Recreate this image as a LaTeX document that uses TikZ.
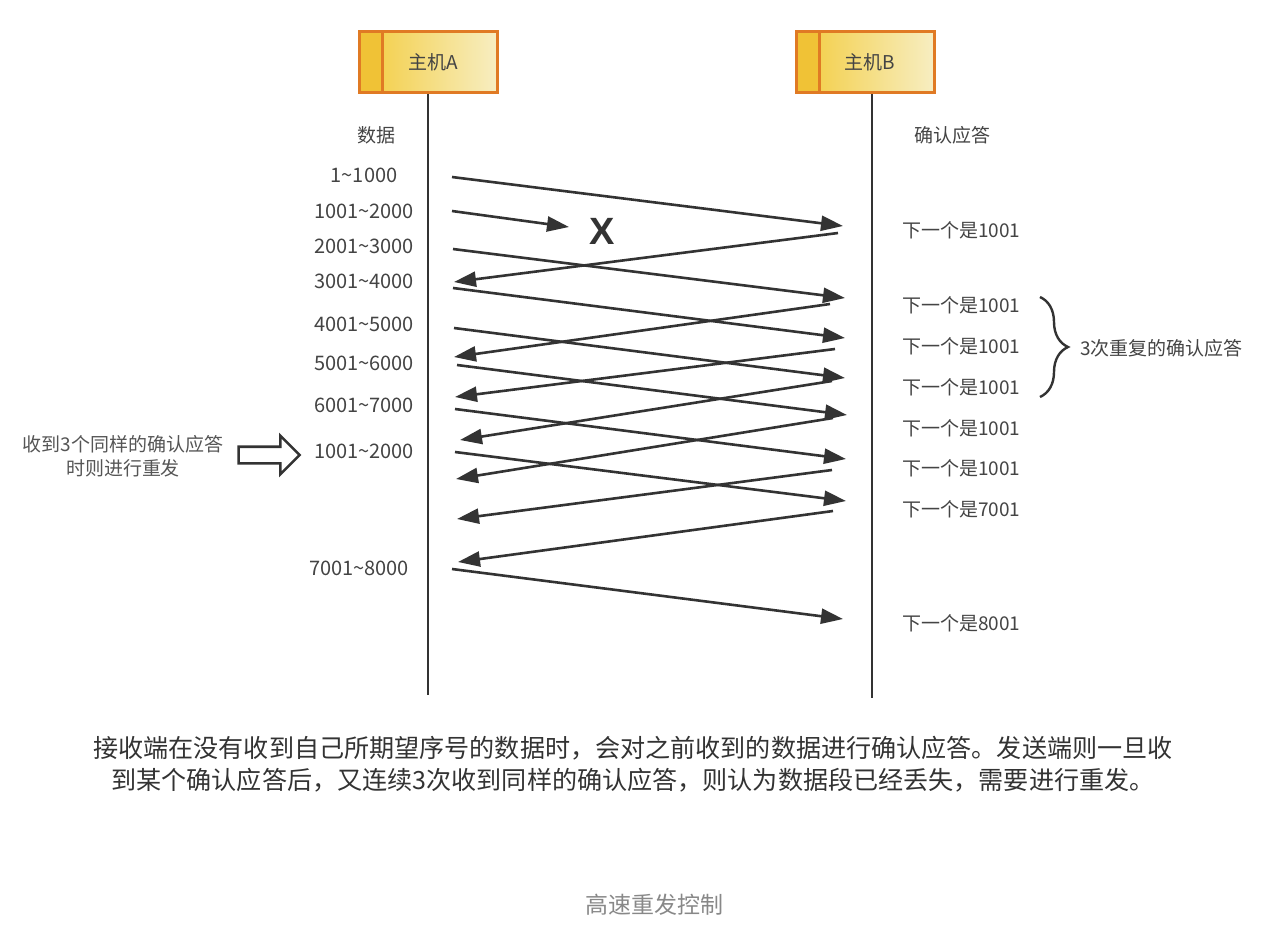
\documentclass[tikz,border=0pt]{standalone}
\usepackage{fontspec}
\setmainfont{Noto Sans CJK SC}
\newfontfamily\xfont{Liberation Sans}
\usetikzlibrary{arrows.meta,decorations.pathreplacing,shapes.arrows}
\definecolor{ink}{HTML}{333333}
\definecolor{txt}{HTML}{444444}
\definecolor{notetxt}{HTML}{555555}
\definecolor{capt}{HTML}{888888}
\definecolor{hostline}{HTML}{E07A24}
\definecolor{hoststrip}{HTML}{F0C236}
\definecolor{hostleft}{HTML}{F3CC3E}
\definecolor{hostright}{HTML}{F7EEC2}

\begin{document}
\begin{tikzpicture}[x=1pt,y=-1pt]
    \tikzset{%
      host/.style={rectangle, draw=hostline, line width=3pt, left
        color=hostleft, right color=hostright, minimum width=138pt,
        minimum height=61pt, inner sep=0pt, text=txt,
        font=\fontsize{19}{23}\selectfont,
        path picture={\fill[hoststrip] (path picture bounding box.north west)
          rectangle ([xshift=22.5pt]path picture bounding box.south west);
          \draw[hostline, line width=3pt] ([xshift=22.5pt]path picture bounding box.north west)
          -- ([xshift=22.5pt]path picture bounding box.south west);}},
      lifeline/.style={ink, line width=2.6pt},
      msg/.style={ink, line width=2.6pt, -{Triangle[length=22pt,width=15pt]}},
      lbl/.style={text=txt, inner sep=0pt, font=\fontsize{19}{23}\selectfont},
      seglbl/.style={lbl, font=\fontsize{20}{23}\selectfont},
      ack/.style={lbl, anchor=west},
    }
    \useasboundingbox[fill=white] (0,0) rectangle (1278,946);

    % hosts and lifelines
    \node[host] (hostA) at (428.5,62) {\hspace*{9pt}主机A};
    \node[host] (hostB) at (865.5,62) {\hspace*{9pt}主机B};
    \coordinate (endA) at (428,695);
    \coordinate (endB) at (872,698);
    \draw[lifeline] (hostA.south -| endA) -- (endA);
    \draw[lifeline] (hostB.south -| endB) -- (endB);

    \node[lbl] (data) at (376,135) {数据};
    \node[lbl] (acks) at (952,135) {确认应答};

    % segment labels
    \node[seglbl] (seg1) at (364,175) {1\textasciitilde1000};
    \node[seglbl] (seg2) at (364,211) {1001\textasciitilde2000};
    \node[seglbl] (seg3) at (364,246) {2001\textasciitilde3000};
    \node[seglbl] (seg4) at (364,281) {3001\textasciitilde4000};
    \node[seglbl] (seg5) at (364,324) {4001\textasciitilde5000};
    \node[seglbl] (seg6) at (364,363) {5001\textasciitilde6000};
    \node[seglbl] (seg7) at (364,405) {6001\textasciitilde7000};
    \node[seglbl] (seg8) at (364,451) {1001\textasciitilde2000};
    \node[seglbl] (seg9) at (359,568) {7001\textasciitilde8000};

    % acknowledgement labels
    \node[ack] (nxt1) at (902,230) {下一个是1001};
    \node[ack] (nxt2) at (902,305) {下一个是1001};
    \node[ack] (nxt3) at (902,346) {下一个是1001};
    \node[ack] (nxt4) at (902,387) {下一个是1001};
    \node[ack] (nxt5) at (902,428) {下一个是1001};
    \node[ack] (nxt6) at (902,468) {下一个是1001};
    \node[ack] (nxt7) at (902,509) {下一个是7001};
    \node[ack] (nxt8) at (902,623) {下一个是8001};

    % segments A -> B
    \coordinate (sA1) at (452,177);
    \coordinate (rB1) at (843,226);
    \draw[msg] (sA1) -- (rB1);
    \coordinate (sA2) at (452,211);
    \coordinate (rB2) at (569,227);
    \draw[msg] (sA2) -- (rB2);
    \node[text=ink, inner sep=0pt, font=\xfont\bfseries\fontsize{38}{40}\selectfont]
      (lost) at (602,231) {X};
    \coordinate (sA3) at (453,249);
    \coordinate (rB3) at (845,298);
    \draw[msg] (sA3) -- (rB3);
    \coordinate (sA4) at (453,288);
    \coordinate (rB4) at (845,338);
    \draw[msg] (sA4) -- (rB4);
    \coordinate (sA5) at (454,328);
    \coordinate (rB5) at (845,378);
    \draw[msg] (sA5) -- (rB5);
    \coordinate (sA6) at (457,365);
    \coordinate (rB6) at (847,415);
    \draw[msg] (sA6) -- (rB6);
    \coordinate (sA7) at (455,409);
    \coordinate (rB7) at (846,459);
    \draw[msg] (sA7) -- (rB7);
    \coordinate (sA8) at (455,452);
    \coordinate (rB8) at (846,501);
    \draw[msg] (sA8) -- (rB8);
    \coordinate (sA9) at (452,569);
    \coordinate (rB9) at (843,619);
    \draw[msg] (sA9) -- (rB9);

    % acknowledgements B -> A
    \coordinate (sB1) at (838,233);
    \coordinate (rA1) at (454,282);
    \draw[msg] (sB1) -- (rA1);
    \coordinate (sB2) at (830,304);
    \coordinate (rA2) at (454,357);
    \draw[msg] (sB2) -- (rA2);
    \coordinate (sB3) at (835,349);
    \coordinate (rA3) at (455,397);
    \draw[msg] (sB3) -- (rA3);
    \coordinate (sB4) at (832,381);
    \coordinate (rA4) at (460,440);
    \draw[msg] (sB4) -- (rA4);
    \coordinate (sB5) at (833,418);
    \coordinate (rA5) at (456,479);
    \draw[msg] (sB5) -- (rA5);
    \coordinate (sB6) at (832,470);
    \coordinate (rA6) at (457,519);
    \draw[msg] (sB6) -- (rA6);
    \coordinate (sB7) at (833,511);
    \coordinate (rA7) at (458,562);
    \draw[msg] (sB7) -- (rA7);

    % three duplicate acks
    \coordinate (brtop) at (1040,297);
    \coordinate (brbot) at (1040,397);
    \draw[ink, line width=2.4pt, decorate, decoration={brace, amplitude=28pt}]
      (brtop) -- (brbot);
    \node[lbl, anchor=west] (dup) at (1080,348) {3次重复的确认应答};

    % fast retransmit note
    \node[lbl, text=notetxt, align=center, font=\fontsize{19}{24}\selectfont]
      (note) at (123,456) {收到3个同样的确认应答\\时则进行重发};
    \node[single arrow, draw=ink, fill=white, line width=2.6pt, inner xsep=0pt,
      inner ysep=7pt, minimum height=61pt, single arrow head extend=11pt]
      (resend) at (265,455) {};

    % caption
    \node[text=ink, align=center, font=\fontsize{25.1}{32}\selectfont]
      (para) at (633,764) {接收端在没有收到自己所期望序号的数据时，会对之前收到的数据进行确认应答。发送端则一旦收\\
      到某个确认应答后，又连续3次收到同样的确认应答，则认为数据段已经丢失，需要进行重发。};
    \node[text=capt, font=\fontsize{23}{28}\selectfont] (title) at (654,905) {高速重发控制};
  \end{tikzpicture}
\end{document}
